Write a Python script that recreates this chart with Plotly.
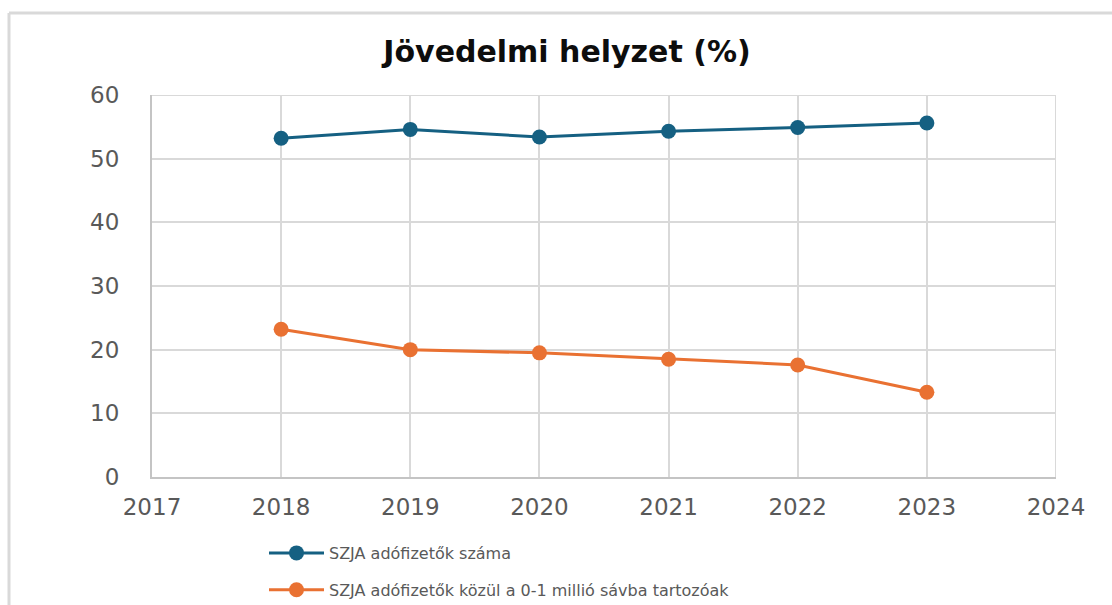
import plotly.graph_objects as go

years = [2018, 2019, 2020, 2021, 2022, 2023]
szja_count = [53.2, 54.6, 53.4, 54.3, 54.9, 55.6]
szja_low_band = [23.2, 20.0, 19.5, 18.5, 17.6, 13.3]
series_names = ["SZJA adófizetők száma", "SZJA adófizetők közül a 0-1 millió sávba tartozóak"]
title_text = "Jövedelmi helyzet (%)"
x_range = [2017, 2024]
y_range = [0, 60]

W, H = 1112, 605
L, R, T, B = 152, 56, 95, 128
pw, ph = W - L - R, H - T - B

def px_x(p):
    return (p - L) / pw

def px_y(p):
    return (H - B - p) / ph

fig = go.Figure()
fig.add_trace(go.Scatter(x=years, y=szja_count, name=series_names[0], mode="lines+markers",
                         legendgroup="a",
                         line=dict(color="#156082", width=3),
                         marker=dict(color="#156082", size=15)))
fig.add_trace(go.Scatter(x=years, y=szja_low_band, name=series_names[1], mode="lines+markers",
                         legendgroup="b",
                         line=dict(color="#E97132", width=3),
                         marker=dict(color="#E97132", size=15)))

fig.update_layout(
    width=W, height=H,
    margin=dict(l=L, r=R, t=T, b=B, autoexpand=False),
    paper_bgcolor="white", plot_bgcolor="white",
    title=dict(text="<b>" + title_text + "</b>", x=567 / W, xref="container", xanchor="center",
               y=1 - 51 / H, yref="container", yanchor="middle",
               font=dict(family="DejaVu Sans", size=30, color="#0d0d0d")),
    showlegend=True,
    legend=dict(orientation="v", x=px_x(264), xanchor="left", y=px_y(536), yanchor="top",
                font=dict(family="DejaVu Sans", size=16, color="#595959"),
                itemwidth=55, tracegroupgap=13, bgcolor="rgba(0,0,0,0)"),
    xaxis=dict(range=x_range, dtick=1, tick0=2017, showgrid=True, gridcolor="#d9d9d9", gridwidth=2,
               showline=True, linecolor="#c4c4c4", linewidth=2, zeroline=False,
               ticks="", ticklabelstandoff=8,
               tickfont=dict(family="DejaVu Sans", size=23, color="#595959")),
    yaxis=dict(range=y_range, dtick=10, showgrid=True, gridcolor="#d9d9d9", gridwidth=2,
               showline=True, linecolor="#c4c4c4", linewidth=2, zeroline=False,
               ticks="", ticklabelstandoff=26,
               tickfont=dict(family="DejaVu Sans", size=23, color="#595959")),
)

# gridlines at the far ends of the ranges (plotly omits them)
fig.add_shape(type="line", xref="x", yref="y", x0=x_range[0], x1=x_range[1], y0=y_range[1], y1=y_range[1],
              line=dict(color="#d9d9d9", width=2), layer="below")
fig.add_shape(type="line", xref="x", yref="y", x0=x_range[1], x1=x_range[1], y0=y_range[0], y1=y_range[1],
              line=dict(color="#d9d9d9", width=2), layer="below")

# outer chart frame (top and left edges visible)
fig.add_shape(type="line", xref="paper", yref="paper", x0=px_x(9), x1=px_x(W + 5), y0=px_y(13), y1=px_y(13),
              line=dict(color="#d9d9d9", width=3))
fig.add_shape(type="line", xref="paper", yref="paper", x0=px_x(9), x1=px_x(9), y0=px_y(13), y1=px_y(H + 5),
              line=dict(color="#d9d9d9", width=3))

fig.write_html("out.html", config={"displayModeBar": False},
               post_script="document.body.style.margin='0px';")
